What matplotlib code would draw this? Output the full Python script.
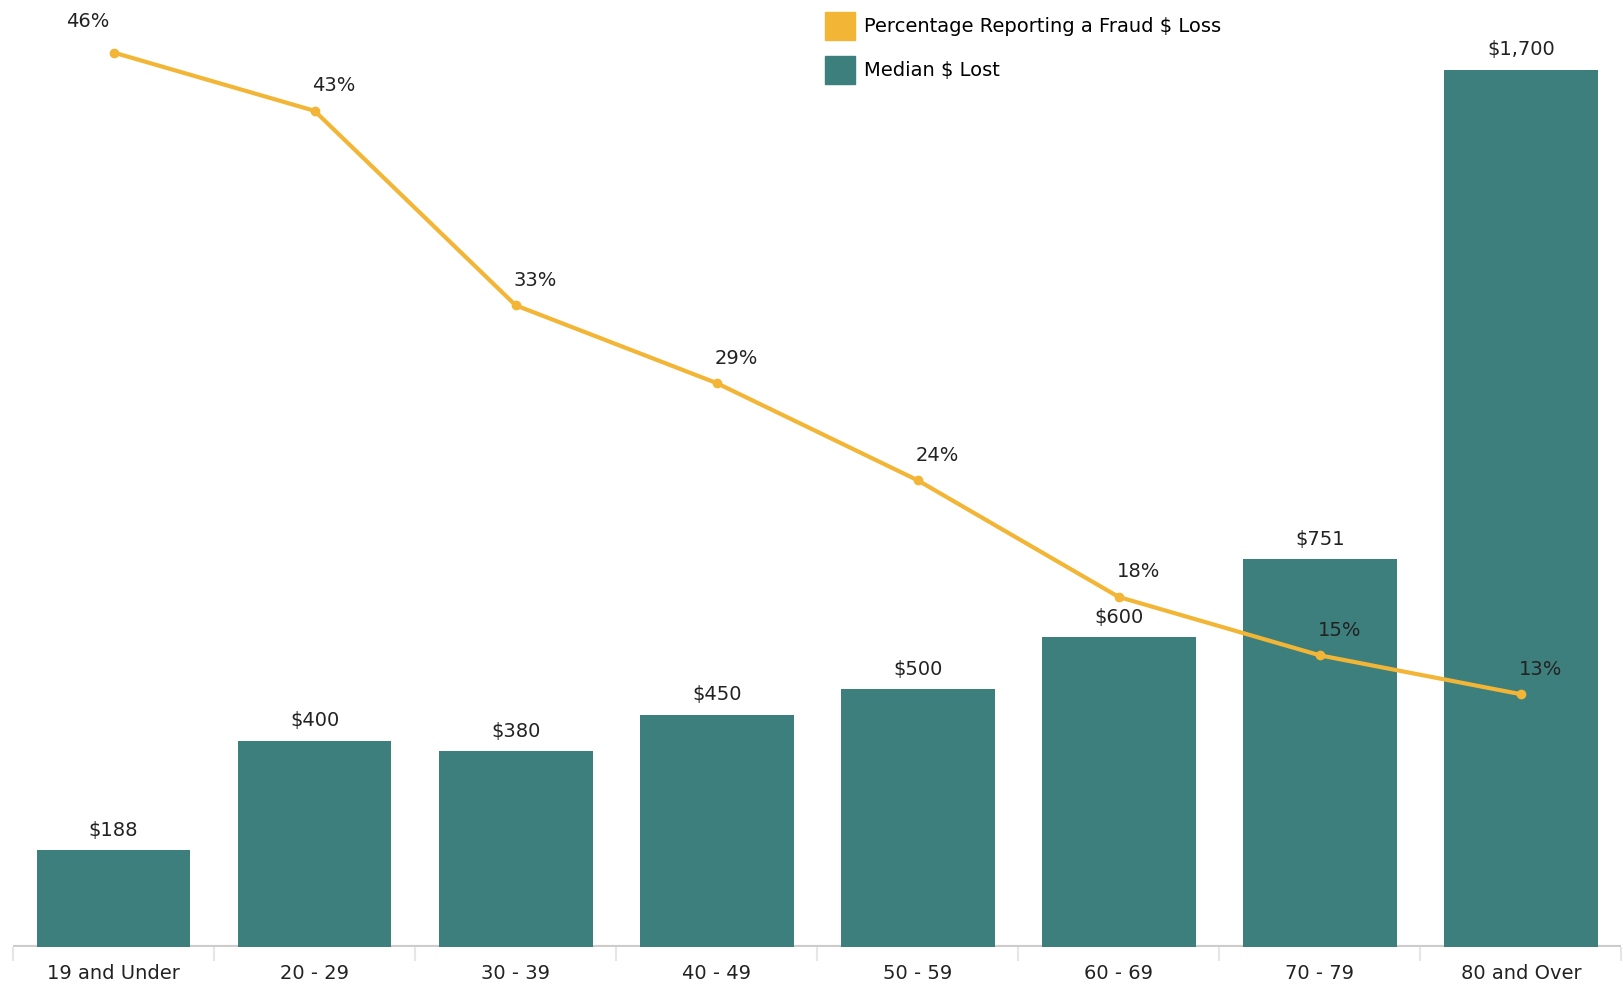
import numpy as np
import matplotlib.pyplot as plt
from matplotlib.patches import Patch

ages = ['19 and Under', '20 - 29', '30 - 39', '40 - 49', '50 - 59', '60 - 69', '70 - 79', '80 and Over']
median_lost = [188, 400, 380, 450, 500, 600, 751, 1700]
pct_loss = [46, 43, 33, 29, 24, 18, 15, 13]

teal = '#3d7f7d'
gold = '#f2b535'

fig = plt.figure(figsize=(16.23, 9.84), dpi=100)
ax = fig.add_axes([0.008, 0.0376, 0.991, 0.9624])
x = np.arange(len(ages))

ax.bar(x, median_lost, width=0.765, color=teal, zorder=2)
for xi, v in zip(x, median_lost):
    ax.text(xi, v + 20, '${:,}'.format(v), ha='center', va='bottom', fontsize=14, color='#222222')

ax.set_xlim(-0.5, 7.5)
ax.set_ylim(0, 1835)
ax.set_yticks([])
for s in ['top', 'right', 'left', 'bottom']:
    ax.spines[s].set_visible(False)
ax.axhline(0, color='#cccccc', lw=3, zorder=1)
ax.set_xticks(x)
ax.set_xticklabels(ages, fontsize=14, color='#222222')
ax.tick_params(axis='x', which='major', length=0, pad=12)
ax.set_xticks(np.arange(-0.5, 8, 1), minor=True)
ax.tick_params(axis='x', which='minor', length=10, width=1.5, color='#e6e6e6')

ax2 = ax.twinx()
ax2.set_ylim(0, 48.7)
ax2.set_yticks([])
for s in ['top', 'right', 'left', 'bottom']:
    ax2.spines[s].set_visible(False)
ax2.plot(x, pct_loss, color=gold, lw=3, marker='o', markersize=6, zorder=3)
for i, (xi, v) in enumerate(zip(x, pct_loss)):
    if i == 0:
        ax2.text(xi - 0.02, v + 1.1, '{}%'.format(v), ha='right', va='bottom', fontsize=14, color='#222222')
    else:
        ax2.text(xi - 0.01, v + 0.8, '{}%'.format(v), ha='left', va='bottom', fontsize=14, color='#222222')

handles = [Patch(color=gold), Patch(color=teal)]
fig.legend(handles, ['Percentage Reporting a Fraud $ Loss', 'Median $ Lost'],
           loc='upper left', bbox_to_anchor=(0.5035, 0.996), frameon=False,
           fontsize=14, handlelength=1.55, handleheight=1.9, handletextpad=0.45,
           labelspacing=0.78, borderaxespad=0)

fig.savefig('out.png', dpi=100)
